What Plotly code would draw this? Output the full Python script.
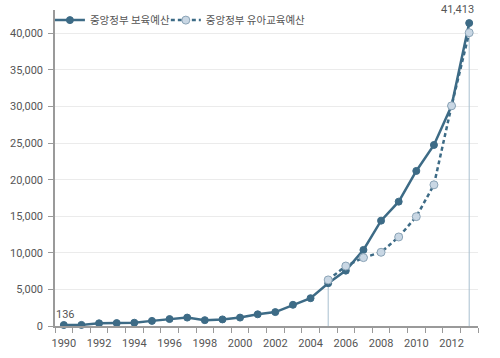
import plotly.graph_objects as go

years = list(range(1990, 2014))
childcare = [136, 150, 370, 400, 450, 700, 950, 1150, 800, 900, 1150, 1600,
             1900, 2900, 3800, 5850, 7570, 10400, 14400, 17000, 21200, 24750, 30100, 41413]
early_edu = [None]*15 + [6300, 8200, 9350, 10080, 12170, 14950, 19300, 30100, 40100]
xtick_years = list(range(1990, 2013, 2))
ytick_vals = list(range(0, 40001, 5000))

dark = "#3d6b86"
light_fill = "#c9d7e4"
light_line = "#8aa3b6"
axis_gray = "#9a9a9a"
text_gray = "#555555"

fig = go.Figure()

# vertical reference lines at 2005 and 2013
for yr in (2005, 2013):
    v = childcare[years.index(yr)]
    fig.add_trace(go.Scatter(x=[yr, yr], y=[0, v], mode="lines",
                             line=dict(color="#a9bfcf", width=1),
                             showlegend=False, hoverinfo="skip"))

fig.add_trace(go.Scatter(
    x=years, y=childcare, mode="lines+markers", name="중앙정부 보육예산",
    line=dict(color=dark, width=2.5),
    marker=dict(color=dark, size=7, line=dict(color=dark, width=1)),
    cliponaxis=False, legend="legend"))

fig.add_trace(go.Scatter(
    x=years, y=early_edu, mode="lines+markers", name="중앙정부 유아교육예산",
    line=dict(color=dark, width=2.5, dash="4px,3px"),
    marker=dict(color=light_fill, size=8, line=dict(color=light_line, width=1)),
    cliponaxis=False, legend="legend2"))

fig.add_annotation(x=1990, y=childcare[0], text="136", showarrow=False,
                   yshift=11, xshift=2, font=dict(size=11, color=text_gray))
fig.add_annotation(x=2013, y=childcare[-1], text="41,413", showarrow=False,
                   yshift=14, xshift=-12, font=dict(size=11, color=text_gray))

leg_common = dict(orientation="h", y=0.968, xanchor="left", yanchor="middle",
                  font=dict(family="Noto Sans CJK KR", size=10.5, color=text_gray),
                  bgcolor="rgba(0,0,0,0)", itemwidth=30)

fig.update_layout(
    width=500, height=358,
    margin=dict(l=55, r=22, t=10, b=32, autoexpand=False),
    paper_bgcolor="white", plot_bgcolor="white",
    font=dict(family="Roboto, Noto Sans CJK KR, sans-serif", size=11, color=text_gray),
    legend=dict(x=-0.012, **leg_common),
    legend2=dict(x=0.262, **leg_common),
    xaxis=dict(range=[1989.5, 2013.5], tickmode="array", tickvals=xtick_years,
               ticktext=[str(y) for y in xtick_years], ticks="",
               showgrid=False, zeroline=False, showline=True,
               linecolor=axis_gray, linewidth=1.5, ticklabelstandoff=6,
               minor=dict(tickmode="array", tickvals=[y + 0.5 for y in range(1989, 2014)],
                          ticks="outside", ticklen=5, tickcolor=axis_gray, showgrid=False),
               tickfont=dict(size=11, color=text_gray)),
    yaxis=dict(range=[0, 43200], tickmode="array", tickvals=ytick_vals,
               ticktext=[f"{v:,}" for v in ytick_vals],
               ticks="outside", ticklen=5, tickcolor=axis_gray, ticklabelstandoff=3,
               showgrid=True, gridcolor="#ebebeb", gridwidth=1,
               zeroline=False, showline=True, linecolor=axis_gray, linewidth=1.5,
               tickfont=dict(size=11, color=text_gray)),
)

fig.write_html("out.html", config={"displayModeBar": False},
               post_script="document.body.style.margin='0';")
